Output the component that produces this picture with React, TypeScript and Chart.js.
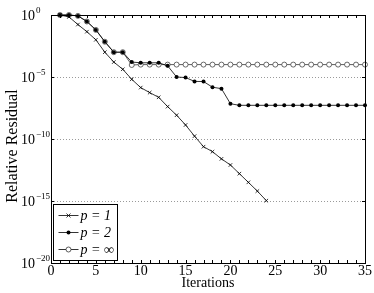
import { useEffect, useRef } from "react";
import { Chart, registerables } from "chart.js";

Chart.register(...registerables);

const iterations = [1, 2, 3, 4, 5, 6, 7, 8, 9, 10, 11, 12, 13, 14, 15, 16, 17, 18, 19, 20, 21, 22, 23, 24, 25, 26, 27, 28, 29, 30, 31, 32, 33, 34, 35];
const residualP1 = [1, 0.7, 0.17, 0.045, 1.0e-2, 1.0e-3, 1.6e-4, 4.2e-5, 6.5e-6, 1.4e-6, 5.5e-7, 2.3e-7, 4.1e-8, 8.3e-9, 1.35e-9, 1.7e-10, 2.4e-11, 9.5e-12, 2.5e-12, 8e-13, 1.6e-13, 3.2e-14, 6.3e-15, 1.07e-15];
const residualP2 = [1, 1, 0.85, 0.3, 0.063, 7e-3, 1.0e-3, 1.0e-3, 1.6e-4, 1.4e-4, 1.4e-4, 1.4e-4, 8e-5, 1.0e-5, 9e-6, 4.4e-6, 4.3e-6, 1.5e-6, 1.15e-6, 7e-8, 5.2e-8, 5.2e-8, 5.2e-8, 5.2e-8, 5.2e-8, 5.2e-8, 5.2e-8, 5.2e-8, 5.2e-8, 5.2e-8, 5.2e-8, 5.2e-8, 5.2e-8, 5.2e-8, 5.2e-8];
const residualPInf = [1, 1, 0.85, 0.3, 0.063, 7e-3, 1.0e-3, 1.0e-3, 9.3e-5, 1.0e-4, 1.0e-4, 1.0e-4, 1.0e-4, 1.0e-4, 1.0e-4, 1.0e-4, 1.0e-4, 1.0e-4, 1.0e-4, 1.0e-4, 1.0e-4, 1.0e-4, 1.0e-4, 1.0e-4, 1.0e-4, 1.0e-4, 1.0e-4, 1.0e-4, 1.0e-4, 1.0e-4, 1.0e-4, 1.0e-4, 1.0e-4, 1.0e-4, 1.0e-4];
const xTicks = [0, 5, 10, 15, 20, 25, 30, 35];
const yTickExponents = [0, -5, -10, -15, -20];
const seriesNames = ["p = 1", "p = 2", "p = \u221E"];
const xTitle = "Iterations";
const yTitle = "Relative Residual";

const FONT = '"Liberation Serif", "Times New Roman", serif';

function toPoints(values: number[]) {
  return values.map((v, i) => ({ x: iterations[i], y: v }));
}

function drawMarker(ctx: CanvasRenderingContext2D, kind: number, x: number, y: number) {
  ctx.save();
  ctx.setLineDash([]);
  if (kind === 0) {
    ctx.strokeStyle = "#000";
    ctx.lineWidth = 0.8;
    const r = 2;
    ctx.beginPath();
    ctx.moveTo(x - r, y - r);
    ctx.lineTo(x + r, y + r);
    ctx.moveTo(x - r, y + r);
    ctx.lineTo(x + r, y - r);
    ctx.stroke();
  } else if (kind === 1) {
    ctx.fillStyle = "#000";
    ctx.beginPath();
    ctx.arc(x, y, 2, 0, Math.PI * 2);
    ctx.fill();
  } else {
    ctx.fillStyle = "#fff";
    ctx.strokeStyle = "#333";
    ctx.lineWidth = 0.8;
    ctx.beginPath();
    ctx.arc(x, y, 2.5, 0, Math.PI * 2);
    ctx.fill();
    ctx.stroke();
  }
  ctx.restore();
}

const decorPlugin = {
  id: "decor",
  beforeDatasetsDraw(chart: any) {
    const { ctx, chartArea } = chart;
    const ys = chart.scales.y;
    ctx.save();
    ctx.strokeStyle = "#9a9a9a";
    ctx.lineWidth = 1;
    ctx.setLineDash([1, 2]);
    yTickExponents.forEach((e) => {
      if (e === 0 || e === -20) return;
      const y = Math.round(ys.getPixelForValue(Math.pow(10, e))) + 0.5;
      ctx.beginPath();
      ctx.moveTo(chartArea.left, y);
      ctx.lineTo(chartArea.right, y);
      ctx.stroke();
    });
    ctx.restore();
  },
  afterDatasetsDraw(chart: any) {
    const { ctx, chartArea } = chart;
    const xs = chart.scales.x;
    const ys = chart.scales.y;
    const L = chartArea.left, R = chartArea.right, T = chartArea.top, B = chartArea.bottom;
    ctx.save();
    ctx.setLineDash([]);
    // ticks
    ctx.strokeStyle = "#000";
    ctx.lineWidth = 1;
    ctx.beginPath();
    for (let v = 1; v < 35; v++) {
      const x = Math.round(xs.getPixelForValue(v)) + 0.5;
      ctx.moveTo(x, B);
      ctx.lineTo(x, B - 3);
      ctx.moveTo(x, T);
      ctx.lineTo(x, T + 3);
    }
    yTickExponents.forEach((e) => {
      const y = Math.round(ys.getPixelForValue(Math.pow(10, e))) + 0.5;
      ctx.moveTo(L, y);
      ctx.lineTo(L + 3, y);
      ctx.moveTo(R, y);
      ctx.lineTo(R - 3, y);
    });
    ctx.stroke();
    // box
    ctx.lineWidth = 1;
    ctx.strokeRect(Math.round(L) + 0.5, Math.round(T) + 0.5, Math.round(R - L), Math.round(B - T));

    // x tick labels
    ctx.fillStyle = "#000";
    ctx.font = `14px ${FONT}`;
    ctx.textAlign = "center";
    ctx.textBaseline = "alphabetic";
    xTicks.forEach((v) => {
      ctx.fillText(String(v), xs.getPixelForValue(v), B + 12);
    });
    // x title
    ctx.fillText(xTitle, (L + R) / 2, B + 24);

    // y tick labels
    yTickExponents.forEach((e) => {
      const y = ys.getPixelForValue(Math.pow(10, e));
      const expText = e === 0 ? "0" : "\u2212" + String(-e);
      ctx.textAlign = "left";
      ctx.font = `14px ${FONT}`;
      ctx.fillText("10", L - 30, y + 5);
      ctx.font = `9px ${FONT}`;
      ctx.fillText(expText, L - 15, y - 2);
    });

    // y title
    ctx.save();
    ctx.font = `16px ${FONT}`;
    ctx.textAlign = "center";
    ctx.textBaseline = "alphabetic";
    ctx.translate(17, (T + B) / 2 + 7);
    ctx.rotate(-Math.PI / 2);
    ctx.fillText(yTitle, 0, 0);
    ctx.restore();

    // legend
    const lx = L + 2.5, ly = B - 58.5, lw = 64, lh = 56;
    ctx.fillStyle = "#fff";
    ctx.fillRect(lx, ly, lw, lh);
    ctx.strokeStyle = "#000";
    ctx.lineWidth = 1;
    ctx.strokeRect(lx, ly, lw, lh);
    seriesNames.forEach((name, i) => {
      const ry = ly + 11 + i * 17;
      ctx.strokeStyle = "#000";
      ctx.lineWidth = 0.8;
      ctx.beginPath();
      ctx.moveTo(lx + 5, ry);
      ctx.lineTo(lx + 25, ry);
      ctx.stroke();
      drawMarker(ctx, i, lx + 15, ry);
      ctx.fillStyle = "#000";
      ctx.font = `italic 14px ${FONT}`;
      ctx.textAlign = "left";
      ctx.fillText(name, lx + 27, ry + 4.5);
    });
    ctx.restore();
  },
};

export default function App() {
  const canvasRef = useRef<HTMLCanvasElement | null>(null);

  useEffect(() => {
    const canvas = canvasRef.current;
    if (!canvas) return;
    const chart = new Chart(canvas, {
      type: "line",
      data: {
        datasets: [
          {
            label: seriesNames[0],
            data: toPoints(residualP1),
            borderColor: "#000",
            borderWidth: 0.8,
            pointStyle: "crossRot",
            pointRadius: 2.5,
            pointBorderColor: "#000",
            pointBorderWidth: 0.8,
            fill: false,
            tension: 0,
            clip: false,
          },
          {
            label: seriesNames[1],
            data: toPoints(residualP2),
            borderColor: "#000",
            borderWidth: 0.8,
            pointStyle: "circle",
            pointRadius: 2,
            pointBackgroundColor: "#000",
            pointBorderColor: "#000",
            pointBorderWidth: 0,
            fill: false,
            tension: 0,
            clip: false,
          },
          {
            label: seriesNames[2],
            data: toPoints(residualPInf),
            borderColor: "#333",
            borderWidth: 0.8,
            pointStyle: "circle",
            pointRadius: 2.5,
            pointBackgroundColor: "#fff",
            pointBorderColor: "#444",
            pointBorderWidth: 0.8,
            fill: false,
            tension: 0,
            clip: false,
          },
        ],
      },
      options: {
        responsive: false,
        animation: false,
        devicePixelRatio: 1,
        layout: { padding: { left: 51, right: 9, top: 15, bottom: 30 } },
        plugins: { legend: { display: false }, tooltip: { enabled: false } },
        scales: {
          x: { type: "linear", min: 0, max: 35, display: false },
          y: { type: "logarithmic", min: 1e-20, max: 1, display: false },
        },
      },
      plugins: [decorPlugin],
    } as any);
    return () => chart.destroy();
  }, []);

  return (
    <div style={{ position: "fixed", left: 0, top: 0, width: 374, height: 293, background: "#fff" }}>
      <canvas ref={canvasRef} width={374} height={293} style={{ display: "block", width: 374, height: 293 }} />
    </div>
  );
}
